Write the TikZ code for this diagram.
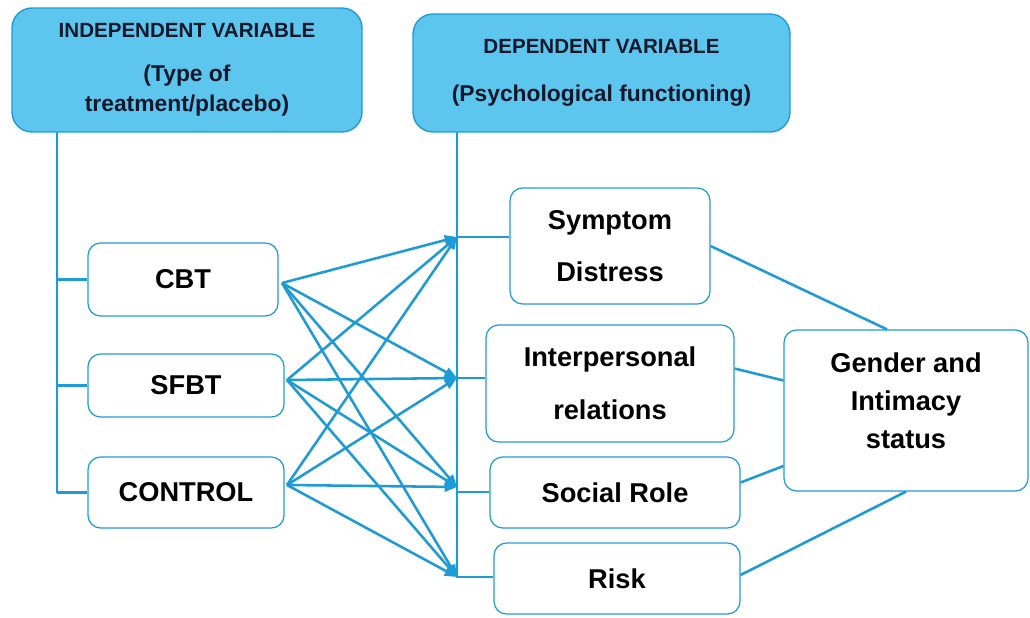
\documentclass[tikz,border=0pt]{standalone}
\usepackage{fontspec}
\setmainfont{Liberation Sans}
\usetikzlibrary{arrows.meta}
\definecolor{lineblue}{HTML}{1E9AD6}
\definecolor{headfill}{HTML}{5CC6EE}
\definecolor{headtext}{HTML}{15182A}

\begin{document}
\begin{tikzpicture}[x=0.02cm, y=-0.02cm,
    headbox/.style={draw=lineblue, fill=headfill, rounded corners=0.4cm, align=center,
        text=headtext, font=\bfseries\fontsize{13}{17}\selectfont, line width=0.8pt, inner sep=0pt},
    itembox/.style={draw=lineblue, rounded corners=0.25cm, align=center,
        font=\bfseries\fontsize{15.5}{18.6}\selectfont, line width=0.7pt, inner sep=0pt},
    link/.style={draw=lineblue, line width=1.45pt},
    arrow/.style={link, -{Triangle[length=7pt,width=5.5pt]}}]
    \useasboundingbox (0,0) rectangle (1030,618);
    % header boxes
    \node[headbox, minimum width=7cm, minimum height=2.48cm] (iv) at (187,70)
        {{\fontsize{11.7}{14}\selectfont INDEPENDENT VARIABLE}\\[8pt](Type of\\treatment/placebo)};
    \node[headbox, minimum width=7.54cm, minimum height=2.36cm] (dv) at (601.5,73)
        {{\fontsize{11.7}{14}\selectfont DEPENDENT VARIABLE}\\[10pt](Psychological functioning)};
    % treatment groups
    \node[itembox, minimum width=3.8cm, minimum height=1.46cm] (cbt) at (183,279.5) {CBT};
    \node[itembox, minimum width=3.92cm, minimum height=1.26cm] (sfbt) at (186,385.5) {SFBT};
    \node[itembox, minimum width=3.92cm, minimum height=1.42cm] (ctrl) at (186,492.5) {CONTROL};
    % outcome measures
    \node[itembox, minimum width=4cm, minimum height=2.32cm] (sd) at (610,246) {Symptom\\[11pt]Distress};
    \node[itembox, minimum width=4.96cm, minimum height=2.34cm] (ip) at (610,383.5) {Interpersonal\\[11.5pt]relations};
    \node[itembox, minimum width=5cm, minimum height=1.42cm] (sr) at (615,492.5) {Social Role};
    \node[itembox, minimum width=4.88cm, minimum height=3.22cm] (gi) at (906,410.5)
        {Gender and\\[3pt]Intimacy\\[3pt]status\\[-7pt]\mbox{}};
    \node[itembox, minimum width=4.92cm, minimum height=1.42cm] (rk) at (617,578.5) {Risk};
    % trunk coordinates
    \coordinate (ivtop) at (57,132);
    \coordinate (ivbot) at (57,492.5);
    \coordinate (dvtop) at (457,132);
    \coordinate (dvbot) at (457,578);
    \coordinate (t1) at (457,237);
    \coordinate (t2) at (457,378);
    \coordinate (t3) at (457,487);
    \coordinate (t4) at (457,577);
    \coordinate (s1) at (282,283);
    \coordinate (s2) at (287,380);
    \coordinate (s3) at (287,485);
    % left trunk
    \draw[link] (ivtop) -- (ivbot);
    \draw[link] (cbt.west -| ivtop) -- (cbt.west)
                (sfbt.west -| ivtop) -- (sfbt.west)
                (ctrl.west -| ivtop) -- (ctrl.west);
    % right trunk
    \draw[link] (dvtop) -- (dvbot);
    \draw[link] (t1) -- (t1 -| sd.west)
                (t2) -- (t2 -| ip.west)
                ([yshift=-0.1cm]t3) -- ([yshift=-0.1cm]t3 -| sr.west)
                (t4) -- (t4 -| rk.west);
    % treatment to outcome arrows
    \foreach \s in {s1,s2,s3}
        \foreach \t in {t1,t2,t3,t4}
            \draw[arrow] (\s) -- (\t);
    % outcomes to moderator
    \draw[link] (sd.east) -- ([xshift=-0.38cm]gi.north)
                ([yshift=0.3cm]ip.east) -- ([yshift=0.6cm]gi.west)
                ([yshift=0.2cm]sr.east) -- ([yshift=-1.11cm]gi.west)
                ([yshift=0.07cm]rk.east) -- (gi.south);
\end{tikzpicture}
\end{document}
